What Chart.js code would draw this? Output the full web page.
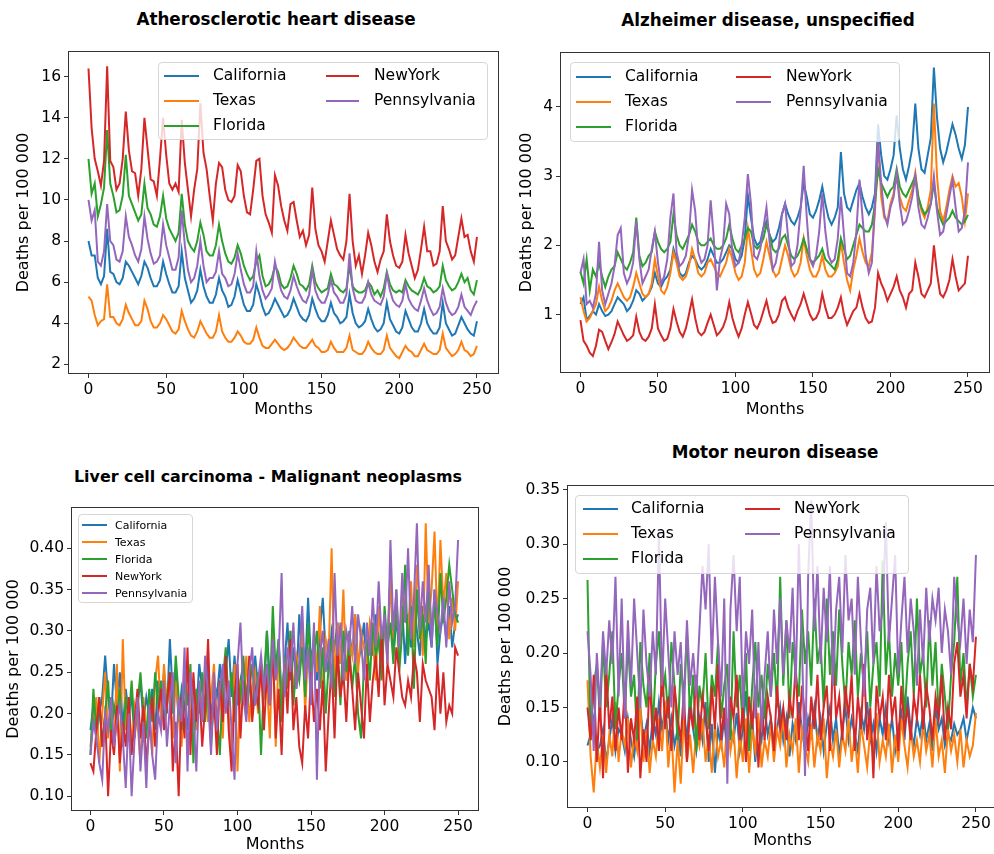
<!DOCTYPE html>
<html lang="en">
<head>
<meta charset="UTF-8">
<title>Deaths per 100 000 by state</title>
<script src="https://cdn.jsdelivr.net/npm/chart.js@4"></script>
<style>
  body { margin: 0; background: #fff; font-family: 'DejaVu Sans', sans-serif; }
  #page { position: relative; width: 994px; height: 854px; overflow: hidden; }
  canvas, .title, .legend { position: absolute; }
  .title { font-weight: bold; white-space: nowrap; transform: translate(-50%, -50%); color: #000; }
  .legend { background: rgba(255, 255, 255, 0.8); border: 1px solid #d6d6d6; border-radius: 4px; box-sizing: border-box; }
  .legend .h { position: absolute; height: 2px; }
  .legend .t { position: absolute; white-space: nowrap; transform: translateY(-50%); color: #000; line-height: 1; }
</style>
</head>
<body>
<div id="page"></div>
<script>
// months on the x axis, one value every 2 months
const months = [];
for (let m = 0; m <= 250; m += 2) months.push(m);

const states = ['California', 'Texas', 'Florida', 'NewYork', 'Pennsylvania'];
const colors = ['#1f77b4', '#ff7f0e', '#2ca02c', '#d62728', '#9467bd'];

// Atherosclerotic heart disease
const athCalifornia = [
  8.0, 7.3, 7.3, 6.2, 5.9, 6.3, 8.6, 6.5, 6.4, 6.0, 5.9, 6.2,
  7.0, 6.8, 6.5, 6.2, 5.9, 6.3, 7.0, 6.7, 6.2, 5.8, 5.8, 6.1,
  7.0, 6.4, 5.9, 5.5, 5.5, 5.8, 7.5, 6.2, 5.6, 5.0, 5.2, 5.6,
  6.6, 5.8, 5.3, 5.0, 5.0, 5.4, 6.2, 5.6, 5.3, 4.8, 4.9, 5.3,
  6.1, 5.5, 4.9, 4.6, 4.6, 4.9, 5.9, 5.4, 4.8, 4.4, 4.5, 4.8,
  5.2, 4.9, 4.6, 4.3, 4.4, 4.7, 5.2, 4.8, 4.4, 4.2, 4.1, 4.4,
  5.2, 4.7, 4.3, 4.1, 4.1, 4.4, 5.0, 4.5, 4.3, 4.0, 4.1, 4.3,
  5.4, 4.5, 4.0, 3.8, 3.9, 4.1, 4.7, 4.2, 3.8, 3.6, 3.7, 4.0,
  5.0, 4.2, 3.9, 3.6, 3.5, 3.8, 4.6, 4.2, 3.8, 3.6, 3.6, 4.0,
  4.7, 4.0, 3.7, 3.5, 3.5, 3.8, 5.0, 4.0, 3.7, 3.4, 3.5, 3.9,
  4.3, 4.0, 3.7, 3.5, 3.4, 4.1
];
const athTexas = [
  5.3, 5.1, 4.4, 3.9, 4.1, 4.2, 5.9, 4.3, 4.3, 4.0, 3.9, 4.2,
  4.9, 4.5, 4.2, 3.9, 3.9, 4.1, 5.1, 4.7, 4.1, 3.8, 3.8, 4.0,
  4.4, 4.2, 3.9, 3.6, 3.5, 3.7, 4.6, 4.1, 3.7, 3.4, 3.3, 3.6,
  4.1, 3.8, 3.5, 3.3, 3.3, 3.6, 4.4, 3.6, 3.3, 3.1, 3.1, 3.3,
  3.6, 3.4, 3.1, 3.0, 3.0, 3.2, 3.8, 3.3, 2.9, 2.8, 2.8, 3.0,
  3.2, 3.0, 2.8, 2.7, 2.8, 3.0, 3.3, 3.1, 2.9, 2.8, 2.8, 3.0,
  3.2, 2.9, 2.8, 2.6, 2.6, 2.7, 3.1, 2.8, 2.6, 2.6, 2.6, 2.8,
  3.4, 2.7, 2.6, 2.5, 2.5, 2.7, 3.1, 2.8, 2.6, 2.5, 2.5, 2.7,
  3.4, 2.8, 2.6, 2.4, 2.3, 2.6, 2.9, 2.7, 2.6, 2.4, 2.4, 2.7,
  3.0, 2.7, 2.6, 2.5, 2.5, 2.7, 3.5, 2.8, 2.6, 2.4, 2.5, 2.7,
  3.1, 2.7, 2.6, 2.4, 2.5, 2.9
];
const athFlorida = [
  12.0, 10.3, 10.8, 9.2, 9.8, 10.6, 13.4, 10.8, 10.2, 9.4, 9.5, 10.2,
  12.2, 10.2, 9.8, 9.4, 9.0, 9.3, 10.8, 9.6, 9.3, 8.8, 8.7, 9.2,
  10.2, 9.1, 8.6, 8.3, 8.0, 8.4, 10.3, 8.8, 8.0, 7.7, 7.5, 8.0,
  8.9, 8.3, 7.5, 7.3, 7.3, 7.8, 8.8, 8.0, 7.4, 7.0, 6.9, 7.2,
  7.8, 7.4, 6.8, 6.4, 6.1, 6.3, 7.0, 7.3, 6.3, 5.8, 5.9, 6.2,
  6.8, 6.5, 5.9, 5.7, 5.8, 6.2, 6.8, 6.4, 5.9, 5.8, 5.6, 5.9,
  6.8, 6.0, 5.7, 5.5, 5.6, 5.7, 6.4, 5.9, 5.8, 5.6, 5.5, 5.7,
  6.8, 5.8, 5.6, 5.5, 5.5, 5.6, 6.0, 5.8, 5.4, 5.6, 5.3, 5.7,
  6.5, 5.9, 5.6, 5.5, 5.6, 5.5, 6.1, 5.8, 5.6, 5.5, 5.4, 5.7,
  6.2, 5.8, 5.7, 5.5, 5.6, 5.8, 6.8, 6.1, 5.8, 5.6, 5.7, 6.0,
  6.4, 6.0, 6.2, 5.6, 5.4, 6.1
];
const athNewYork = [
  16.4, 13.5, 12.0, 11.4, 10.7, 11.9, 16.5, 11.9, 11.6, 10.5, 10.8, 12.0,
  14.3, 12.4, 11.4, 11.3, 10.2, 11.5, 14.0, 12.5, 11.0, 10.9, 10.2, 12.0,
  14.0, 12.2, 10.8, 10.5, 10.8, 10.4, 13.9, 11.8, 10.5, 9.2, 10.5, 11.5,
  14.7, 12.3, 11.5, 10.2, 9.0, 10.8, 11.8, 11.6, 10.5, 10.0, 9.9, 10.2,
  11.7, 11.4, 10.2, 9.4, 9.3, 10.5, 11.9, 12.0, 10.2, 9.3, 8.9, 8.4,
  11.2, 10.7, 9.7, 9.0, 8.5, 9.8, 9.9, 9.0, 8.2, 8.5, 7.8, 8.3,
  10.6, 8.6, 7.8, 7.5, 7.0, 8.0, 9.0, 8.3, 7.6, 7.3, 7.1, 8.0,
  10.3, 8.0, 6.8, 7.3, 6.4, 7.3, 8.4, 7.8, 7.0, 6.5, 7.1, 7.5,
  9.3, 8.0, 7.3, 6.8, 6.7, 7.0, 8.3, 7.4, 6.8, 6.2, 6.6, 7.6,
  8.7, 7.5, 7.5, 6.8, 6.9, 7.5, 9.7, 8.0, 7.6, 7.1, 7.3, 8.2,
  9.1, 8.2, 8.3, 7.5, 7.0, 8.2
];
const athPennsylvania = [
  10.0, 9.0, 9.5, 7.0, 6.8, 7.5, 9.8, 8.0, 7.8, 7.1, 7.0, 7.5,
  9.2, 8.2, 7.8, 7.3, 7.0, 7.6, 9.2, 8.1, 7.4, 6.9, 7.0, 7.3,
  8.8, 7.8, 7.2, 6.6, 6.6, 7.2, 9.5, 7.8, 6.6, 6.0, 6.2, 6.8,
  8.0, 6.8, 6.0, 6.2, 6.2, 6.5, 7.5, 6.4, 6.2, 5.8, 5.9, 6.4,
  7.4, 6.6, 5.9, 5.5, 5.5, 5.8, 7.5, 6.3, 5.6, 5.2, 5.4, 5.7,
  7.0, 6.2, 5.6, 5.3, 5.2, 5.6, 6.3, 5.8, 5.4, 5.1, 5.0, 5.4,
  6.6, 5.6, 5.2, 5.0, 5.0, 5.4, 6.1, 5.5, 5.3, 5.0, 5.0, 5.4,
  7.4, 5.7, 5.1, 5.0, 5.0, 5.3, 6.0, 5.4, 5.1, 5.0, 4.9, 5.3,
  6.4, 5.6, 5.1, 4.9, 4.8, 5.1, 5.9, 5.2, 4.9, 4.7, 4.6, 5.1,
  5.7, 5.1, 4.7, 4.4, 4.5, 4.8, 5.7, 5.0, 4.6, 4.4, 4.5, 4.8,
  5.4, 4.8, 4.6, 4.4, 4.8, 5.1
];

// Alzheimer disease, unspecified
const alzCalifornia = [
  1.15, 1.25, 0.92, 0.98, 1.05, 1.00, 1.15, 1.05, 0.98, 1.00, 1.05, 1.15,
  1.25, 1.20, 1.15, 1.05, 1.10, 1.20, 1.35, 1.30, 1.20, 1.25, 1.30, 1.40,
  1.60, 1.45, 1.40, 1.50, 1.55, 1.65, 1.95, 1.80, 1.60, 1.55, 1.60, 1.75,
  1.85, 1.80, 1.70, 1.65, 1.70, 1.80, 1.95, 1.85, 1.75, 1.75, 1.80, 1.90,
  2.00, 1.95, 1.80, 1.75, 1.85, 2.10, 2.72, 2.40, 2.10, 2.00, 2.05, 2.25,
  2.35, 2.15, 2.05, 2.10, 2.25, 2.45, 2.60, 2.45, 2.35, 2.30, 2.40, 2.55,
  2.90, 2.70, 2.45, 2.40, 2.50, 2.65, 2.85, 2.60, 2.40, 2.30, 2.40, 2.55,
  3.35, 2.75, 2.55, 2.50, 2.65, 2.80, 2.90, 2.70, 2.55, 2.45, 2.55, 2.75,
  3.75, 3.30, 3.00, 2.95, 3.10, 3.30, 3.88, 3.40, 3.10, 2.95, 3.15, 3.40,
  4.05, 3.40, 3.10, 3.05, 3.30, 3.55, 4.57, 3.85, 3.40, 3.20, 3.35, 3.55,
  3.75, 3.60, 3.40, 3.25, 3.45, 4.00
];
const alzTexas = [
  1.25, 1.05, 0.90, 0.95, 1.05, 1.15, 1.40, 1.20, 1.05, 1.10, 1.20, 1.35,
  1.45, 1.35, 1.25, 1.20, 1.25, 1.40, 1.60, 1.45, 1.30, 1.25, 1.30, 1.45,
  1.80, 1.55, 1.35, 1.30, 1.40, 1.60, 1.90, 1.75, 1.55, 1.50, 1.55, 1.70,
  1.95, 1.80, 1.60, 1.55, 1.60, 1.75, 1.80, 1.70, 1.60, 1.55, 1.65, 1.75,
  1.95, 1.80, 1.60, 1.50, 1.55, 1.75, 2.25, 1.95, 1.65, 1.55, 1.60, 1.80,
  2.05, 1.85, 1.65, 1.55, 1.60, 1.80, 2.00, 1.85, 1.65, 1.55, 1.60, 1.75,
  2.10, 1.85, 1.65, 1.55, 1.55, 1.65, 1.85, 1.65, 1.55, 1.55, 1.60, 1.70,
  2.05, 1.75, 1.50, 1.35, 1.65, 1.85, 2.10, 1.90, 1.75, 1.70, 1.90, 2.50,
  3.50, 2.70, 2.40, 2.35, 2.60, 2.75, 3.00, 2.70, 2.55, 2.50, 2.65, 2.80,
  3.05, 2.70, 2.50, 2.40, 2.55, 2.80, 4.05, 3.00, 2.50, 2.35, 2.55, 2.80,
  3.00, 2.85, 2.90, 2.70, 2.35, 2.75
];
const alzFlorida = [
  1.62, 1.45, 1.80, 1.35, 1.65, 1.55, 1.75, 1.55, 1.40, 1.55, 1.65, 1.70,
  1.90, 1.80, 1.70, 1.65, 1.75, 1.90, 2.40, 1.85, 1.70, 1.75, 1.85, 1.90,
  2.20, 2.05, 1.95, 1.90, 1.95, 2.05, 2.45, 2.15, 2.00, 1.95, 2.05, 2.15,
  2.30, 2.20, 2.05, 2.00, 2.00, 2.05, 2.10, 2.00, 1.95, 1.95, 2.00, 2.10,
  2.30, 2.10, 1.95, 1.90, 2.00, 2.10, 2.25, 2.20, 2.00, 1.95, 2.00, 2.10,
  2.30, 2.15, 1.95, 1.90, 1.95, 2.10, 2.15, 2.00, 1.85, 1.80, 1.85, 1.95,
  2.10, 1.95, 1.80, 1.75, 1.80, 1.85, 1.95, 1.80, 1.75, 1.70, 1.65, 1.80,
  2.10, 1.95, 1.80, 1.85, 2.00, 2.15, 2.30, 2.25, 2.20, 2.20, 2.30, 2.60,
  3.10, 2.90, 2.80, 2.70, 2.80, 2.85, 3.10, 2.85, 2.75, 2.70, 2.80, 2.90,
  3.00, 2.70, 2.55, 2.45, 2.50, 2.60, 2.90, 2.55, 2.40, 2.30, 2.35, 2.40,
  2.50, 2.40, 2.35, 2.30, 2.35, 2.44
];
const alzNewYork = [
  0.92, 0.62, 0.55, 0.45, 0.40, 0.55, 0.78, 0.75, 0.62, 0.50, 0.60, 0.72,
  0.90, 0.80, 0.70, 0.62, 0.65, 0.70, 0.97, 0.75, 0.65, 0.62, 0.68, 0.80,
  1.15, 0.80, 0.70, 0.62, 0.65, 0.80, 1.08, 0.90, 0.75, 0.68, 0.80, 1.00,
  1.22, 0.95, 0.75, 0.70, 0.75, 0.88, 1.00, 0.85, 0.70, 0.75, 0.82, 0.95,
  1.18, 0.95, 0.80, 0.68, 0.80, 1.00, 1.18, 1.02, 0.85, 0.80, 0.90, 1.05,
  1.20, 1.00, 0.88, 0.90, 1.00, 1.20, 1.25, 1.10, 1.00, 0.92, 1.05, 1.15,
  1.30, 1.15, 1.00, 0.92, 0.95, 1.05, 1.30, 1.10, 0.95, 0.95, 1.00, 1.10,
  1.25, 1.00, 0.85, 0.95, 1.05, 1.10, 1.30, 1.10, 0.95, 0.88, 0.90, 1.10,
  1.60, 1.45, 1.35, 1.20, 1.30, 1.40, 1.55, 1.35, 1.25, 1.10, 1.30, 1.35,
  1.75, 1.55, 1.30, 1.25, 1.35, 1.45, 2.00, 1.60, 1.30, 1.25, 1.35, 1.50,
  1.80, 1.55, 1.35, 1.40, 1.45, 1.85
];
const alzPennsylvania = [
  1.60, 1.80, 1.15, 1.20, 1.10, 1.30, 2.05, 1.35, 1.15, 1.30, 1.45, 1.70,
  2.15, 2.25, 1.60, 1.45, 1.55, 1.75, 2.35, 1.80, 1.45, 1.55, 1.65, 1.95,
  2.20, 1.75, 1.45, 1.55, 1.80, 2.40, 2.75, 1.90, 1.70, 1.75, 1.85, 2.15,
  2.80, 2.50, 1.90, 1.75, 1.80, 2.00, 2.65, 2.10, 1.35, 1.80, 2.00, 2.60,
  2.45, 1.90, 1.70, 1.75, 2.00, 2.40, 3.03, 2.60, 1.85, 1.80, 1.95, 2.25,
  2.55, 2.05, 1.65, 1.75, 2.00, 2.45, 2.60, 2.10, 1.70, 1.75, 2.00, 2.50,
  3.15, 2.40, 1.80, 1.70, 1.85, 2.20, 2.75, 2.20, 1.85, 1.75, 1.80, 2.10,
  2.70, 2.15, 1.60, 1.55, 1.75, 2.20, 2.95, 2.40, 1.85, 1.60, 1.75, 2.60,
  3.50, 2.90, 2.45, 2.30, 2.55, 2.70, 3.05, 2.60, 2.30, 2.35, 2.50, 2.70,
  3.00, 2.55, 2.30, 2.25, 2.40, 2.60, 3.00, 2.50, 2.15, 2.20, 2.45, 2.70,
  2.95, 2.55, 2.20, 2.25, 2.50, 3.20
];

// Liver cell carcinoma - Malignant neoplasms
const livCalifornia = [
  0.18, 0.21, 0.17, 0.20, 0.22, 0.27, 0.22, 0.19, 0.26, 0.21, 0.25, 0.18,
  0.23, 0.20, 0.22, 0.17, 0.21, 0.24, 0.19, 0.22, 0.20, 0.23, 0.18, 0.24,
  0.21, 0.25, 0.20, 0.29, 0.22, 0.25, 0.19, 0.23, 0.21, 0.18, 0.24, 0.22,
  0.20, 0.26, 0.23, 0.21, 0.26, 0.19, 0.24, 0.22, 0.26, 0.20, 0.25, 0.29,
  0.22, 0.27, 0.21, 0.24, 0.26, 0.22, 0.25, 0.20, 0.27, 0.23, 0.26, 0.22,
  0.30, 0.24, 0.27, 0.25, 0.29, 0.22, 0.26, 0.31, 0.24, 0.28, 0.23, 0.32,
  0.27, 0.25, 0.34, 0.26, 0.29, 0.24, 0.30, 0.34, 0.27, 0.25, 0.30, 0.28,
  0.31, 0.26, 0.29, 0.24, 0.30, 0.27, 0.32, 0.26, 0.28, 0.31, 0.25, 0.30,
  0.27, 0.32, 0.29, 0.25, 0.31, 0.28, 0.37, 0.27, 0.31, 0.29, 0.33, 0.26,
  0.32, 0.28, 0.34, 0.30, 0.27, 0.33, 0.29, 0.31, 0.28, 0.35, 0.26, 0.30,
  0.32, 0.29, 0.33, 0.28, 0.31, 0.32
];
const livTexas = [
  0.16, 0.19, 0.22, 0.14, 0.20, 0.25, 0.17, 0.21, 0.15, 0.26, 0.13, 0.29,
  0.18, 0.22, 0.16, 0.21, 0.19, 0.14, 0.22, 0.18, 0.20, 0.15, 0.24, 0.27,
  0.19, 0.26, 0.21, 0.23, 0.17, 0.24, 0.20, 0.16, 0.25, 0.22, 0.19, 0.24,
  0.18, 0.23, 0.21, 0.25, 0.19, 0.22, 0.26, 0.18, 0.24, 0.17, 0.27, 0.20,
  0.14, 0.26, 0.13, 0.24, 0.21, 0.27, 0.19, 0.23, 0.25, 0.20, 0.26, 0.22,
  0.24, 0.17, 0.30, 0.16, 0.28, 0.21, 0.26, 0.24, 0.30, 0.22, 0.27, 0.25,
  0.31, 0.20, 0.28, 0.23, 0.30, 0.25, 0.33, 0.21, 0.29, 0.27, 0.40, 0.23,
  0.31, 0.26, 0.35, 0.24, 0.29, 0.27, 0.32, 0.25, 0.30, 0.28, 0.26, 0.31,
  0.29, 0.24, 0.33, 0.28, 0.31, 0.26, 0.37, 0.29, 0.34, 0.27, 0.35, 0.32,
  0.30, 0.36, 0.28, 0.38, 0.33, 0.27, 0.43, 0.31, 0.35, 0.42, 0.30, 0.41,
  0.33, 0.37, 0.29, 0.34, 0.30, 0.36
];
const livFlorida = [
  0.15, 0.23, 0.18, 0.22, 0.16, 0.20, 0.24, 0.17, 0.21, 0.19, 0.23, 0.16,
  0.22, 0.19, 0.24, 0.18, 0.21, 0.25, 0.20, 0.17, 0.23, 0.19, 0.25, 0.21,
  0.24, 0.19, 0.22, 0.25, 0.20, 0.27, 0.22, 0.18, 0.24, 0.21, 0.26, 0.14,
  0.23, 0.20, 0.25, 0.19, 0.24, 0.16, 0.22, 0.20, 0.15, 0.24, 0.28, 0.21,
  0.25, 0.19, 0.24, 0.22, 0.27, 0.20, 0.23, 0.26, 0.21, 0.25, 0.15, 0.24,
  0.30, 0.22, 0.33, 0.25, 0.29, 0.19, 0.27, 0.23, 0.30, 0.21, 0.26, 0.24,
  0.28, 0.22, 0.31, 0.25, 0.27, 0.30, 0.23, 0.28, 0.20, 0.26, 0.29, 0.22,
  0.27, 0.21, 0.30, 0.25, 0.28, 0.23, 0.27, 0.20, 0.17, 0.26, 0.29, 0.24,
  0.31, 0.27, 0.29, 0.24, 0.33, 0.28, 0.31, 0.26, 0.35, 0.25, 0.30, 0.38,
  0.27, 0.33, 0.23, 0.35, 0.29, 0.32, 0.26, 0.36, 0.30, 0.33, 0.28, 0.37,
  0.31, 0.34, 0.38, 0.35, 0.32, 0.31
];
const livNewYork = [
  0.14, 0.13, 0.18, 0.22, 0.16, 0.20, 0.10, 0.18, 0.15, 0.21, 0.14, 0.19,
  0.16, 0.22, 0.15, 0.19, 0.23, 0.17, 0.21, 0.14, 0.18, 0.22, 0.16, 0.20,
  0.23, 0.18, 0.21, 0.25, 0.13, 0.19, 0.10, 0.22, 0.17, 0.28, 0.15, 0.25,
  0.19, 0.23, 0.16, 0.21, 0.29, 0.17, 0.22, 0.15, 0.24, 0.19, 0.27, 0.18,
  0.13, 0.22, 0.26, 0.17, 0.24, 0.20, 0.27, 0.19, 0.23, 0.21, 0.26, 0.18,
  0.25, 0.21, 0.28, 0.17, 0.23, 0.15, 0.26, 0.20, 0.29, 0.18, 0.22, 0.16,
  0.14, 0.21, 0.17, 0.25, 0.19, 0.23, 0.18, 0.24, 0.13, 0.20, 0.26, 0.17,
  0.28, 0.22, 0.25, 0.19, 0.27, 0.23, 0.18, 0.25, 0.21, 0.17, 0.26, 0.19,
  0.24, 0.27, 0.22, 0.30, 0.21, 0.26, 0.24, 0.22, 0.28, 0.25, 0.22, 0.21,
  0.24, 0.22, 0.27, 0.25, 0.19, 0.26, 0.24, 0.23, 0.22, 0.18, 0.26, 0.20,
  0.25, 0.19, 0.21, 0.20, 0.28, 0.27
];
const livPennsylvania = [
  0.15, 0.19, 0.17, 0.14, 0.12, 0.20, 0.18, 0.22, 0.16, 0.19, 0.21, 0.17,
  0.11, 0.20, 0.10, 0.17, 0.22, 0.13, 0.19, 0.11, 0.21, 0.15, 0.12, 0.20,
  0.18, 0.24, 0.16, 0.21, 0.25, 0.14, 0.22, 0.19, 0.28, 0.13, 0.25, 0.20,
  0.13, 0.24, 0.19, 0.27, 0.22, 0.15, 0.25, 0.18, 0.23, 0.26, 0.20, 0.24,
  0.18, 0.12, 0.26, 0.31, 0.22, 0.19, 0.25, 0.28, 0.21, 0.24, 0.27, 0.23,
  0.26, 0.21, 0.29, 0.24, 0.27, 0.37, 0.22, 0.28, 0.25, 0.31, 0.23, 0.26,
  0.33, 0.24, 0.28, 0.21, 0.31, 0.12, 0.27, 0.30, 0.25, 0.29, 0.23, 0.37,
  0.27, 0.31, 0.24, 0.30, 0.28, 0.33, 0.26, 0.32, 0.29, 0.24, 0.31, 0.27,
  0.34, 0.28, 0.36, 0.29, 0.32, 0.26, 0.41, 0.30, 0.35, 0.28, 0.37, 0.31,
  0.40, 0.29, 0.34, 0.43, 0.30, 0.36, 0.31, 0.38, 0.28, 0.35, 0.32, 0.30,
  0.34, 0.28, 0.36, 0.31, 0.33, 0.41
];

// Motor neuron disease
const mndCalifornia = [
  0.115, 0.125, 0.14, 0.11, 0.115, 0.13, 0.10, 0.12, 0.14, 0.11, 0.13, 0.125,
  0.11, 0.14, 0.12, 0.105, 0.13, 0.15, 0.12, 0.135, 0.11, 0.14, 0.125, 0.155,
  0.13, 0.15, 0.12, 0.14, 0.115, 0.13, 0.105, 0.145, 0.12, 0.16, 0.13, 0.11,
  0.14, 0.12, 0.155, 0.10, 0.135, 0.09, 0.13, 0.115, 0.14, 0.105, 0.13, 0.12,
  0.145, 0.11, 0.13, 0.165, 0.12, 0.14, 0.10, 0.135, 0.12, 0.15, 0.125, 0.14,
  0.115, 0.13, 0.15, 0.12, 0.14, 0.105, 0.135, 0.12, 0.155, 0.13, 0.11, 0.14,
  0.125, 0.15, 0.12, 0.14, 0.11, 0.135, 0.15, 0.12, 0.14, 0.105, 0.13, 0.15,
  0.12, 0.14, 0.125, 0.11, 0.145, 0.13, 0.155, 0.12, 0.135, 0.11, 0.14, 0.125,
  0.15, 0.12, 0.14, 0.11, 0.13, 0.145, 0.12, 0.16, 0.13, 0.115, 0.14, 0.125,
  0.145, 0.12, 0.135, 0.11, 0.15, 0.13, 0.14, 0.115, 0.125, 0.12, 0.135, 0.125,
  0.13, 0.14, 0.12, 0.135, 0.15, 0.14
];
const mndTexas = [
  0.175, 0.105, 0.072, 0.12, 0.095, 0.125, 0.09, 0.125, 0.105, 0.155, 0.10, 0.13,
  0.115, 0.14, 0.095, 0.125, 0.11, 0.15, 0.10, 0.13, 0.09, 0.12, 0.105, 0.14,
  0.11, 0.155, 0.095, 0.13, 0.072, 0.12, 0.08, 0.14, 0.10, 0.125, 0.09, 0.13,
  0.115, 0.14, 0.10, 0.125, 0.09, 0.135, 0.105, 0.12, 0.095, 0.14, 0.11, 0.13,
  0.085, 0.125, 0.10, 0.14, 0.09, 0.13, 0.11, 0.145, 0.095, 0.12, 0.105, 0.135,
  0.10, 0.13, 0.115, 0.145, 0.095, 0.125, 0.11, 0.14, 0.09, 0.13, 0.115, 0.10,
  0.135, 0.095, 0.125, 0.11, 0.14, 0.085, 0.12, 0.105, 0.13, 0.095, 0.125, 0.11,
  0.14, 0.10, 0.125, 0.09, 0.135, 0.115, 0.095, 0.13, 0.11, 0.145, 0.10, 0.12,
  0.105, 0.135, 0.09, 0.125, 0.10, 0.14, 0.115, 0.095, 0.13, 0.105, 0.12, 0.10,
  0.135, 0.11, 0.125, 0.095, 0.14, 0.105, 0.12, 0.09, 0.13, 0.11, 0.125, 0.10,
  0.13, 0.095, 0.12, 0.105, 0.115, 0.145
];
const mndFlorida = [
  0.267, 0.12, 0.17, 0.19, 0.14, 0.21, 0.15, 0.18, 0.22, 0.13, 0.17, 0.20,
  0.14, 0.21, 0.16, 0.18, 0.12, 0.21, 0.17, 0.15, 0.20, 0.13, 0.19, 0.22,
  0.16, 0.18, 0.14, 0.21, 0.17, 0.12, 0.19, 0.16, 0.22, 0.14, 0.18, 0.11,
  0.17, 0.15, 0.20, 0.13, 0.18, 0.16, 0.21, 0.14, 0.17, 0.19, 0.12, 0.22,
  0.15, 0.18, 0.13, 0.20, 0.11, 0.17, 0.21, 0.15, 0.18, 0.14, 0.19, 0.16,
  0.20, 0.15, 0.27, 0.17, 0.23, 0.14, 0.21, 0.18, 0.16, 0.24, 0.19, 0.22,
  0.17, 0.25, 0.19, 0.21, 0.15, 0.25, 0.18, 0.22, 0.17, 0.24, 0.19, 0.15,
  0.21, 0.18, 0.23, 0.16, 0.20, 0.17, 0.22, 0.15, 0.19, 0.21, 0.16, 0.285,
  0.18, 0.22, 0.16, 0.20, 0.17, 0.21, 0.14, 0.19, 0.22, 0.16, 0.25, 0.18,
  0.20, 0.15, 0.23, 0.17, 0.21, 0.14, 0.19, 0.16, 0.13, 0.18, 0.21, 0.27,
  0.17, 0.20, 0.15, 0.19, 0.16, 0.18
];
const mndNewYork = [
  0.15, 0.12, 0.18, 0.10, 0.16, 0.085, 0.19, 0.13, 0.16, 0.11, 0.15, 0.12,
  0.17, 0.09, 0.14, 0.12, 0.16, 0.085, 0.13, 0.10, 0.18, 0.12, 0.15, 0.11,
  0.19, 0.13, 0.16, 0.11, 0.17, 0.14, 0.12, 0.165, 0.10, 0.15, 0.13, 0.18,
  0.12, 0.16, 0.14, 0.11, 0.17, 0.13, 0.19, 0.12, 0.15, 0.11, 0.16, 0.14,
  0.18, 0.12, 0.15, 0.10, 0.16, 0.13, 0.17, 0.095, 0.15, 0.12, 0.16, 0.14,
  0.11, 0.17, 0.13, 0.15, 0.12, 0.16, 0.14, 0.19, 0.12, 0.17, 0.14, 0.11,
  0.16, 0.13, 0.18, 0.12, 0.15, 0.17, 0.11, 0.20, 0.14, 0.16, 0.12, 0.17,
  0.14, 0.18, 0.11, 0.16, 0.13, 0.19, 0.12, 0.15, 0.085, 0.17, 0.14, 0.16,
  0.12, 0.18, 0.14, 0.16, 0.11, 0.17, 0.13, 0.15, 0.12, 0.16, 0.14, 0.18,
  0.13, 0.17, 0.15, 0.12, 0.16, 0.14, 0.18, 0.12, 0.15, 0.13, 0.19, 0.21,
  0.16, 0.18, 0.14, 0.19, 0.17, 0.215
];
const mndPennsylvania = [
  0.22, 0.18, 0.11, 0.20, 0.15, 0.22, 0.18, 0.23, 0.19, 0.27, 0.16, 0.25,
  0.14, 0.23, 0.17, 0.25, 0.20, 0.15, 0.24, 0.19, 0.16, 0.22, 0.18, 0.31,
  0.17, 0.25, 0.20, 0.15, 0.22, 0.18, 0.21, 0.14, 0.23, 0.17, 0.20, 0.16,
  0.22, 0.28, 0.24, 0.30, 0.19, 0.27, 0.21, 0.16, 0.25, 0.08, 0.24, 0.29,
  0.22, 0.27, 0.15, 0.22, 0.19, 0.24, 0.14, 0.21, 0.13, 0.18, 0.22, 0.16,
  0.24, 0.19, 0.25, 0.18, 0.23, 0.20, 0.26, 0.17, 0.30, 0.21, 0.087, 0.27,
  0.34, 0.22, 0.28, 0.19, 0.26, 0.21, 0.28, 0.17, 0.24, 0.27, 0.20, 0.29,
  0.23, 0.25, 0.18, 0.27, 0.21, 0.16, 0.24, 0.26, 0.19, 0.28, 0.22, 0.24,
  0.32, 0.21, 0.25, 0.29, 0.18, 0.23, 0.27, 0.20, 0.25, 0.22, 0.17, 0.24,
  0.19, 0.26, 0.21, 0.25, 0.23, 0.26, 0.20, 0.24, 0.22, 0.18, 0.27, 0.23,
  0.21, 0.25, 0.19, 0.24, 0.21, 0.29
];

Chart.defaults.font.family = "'DejaVu Sans', sans-serif";
Chart.defaults.color = '#000';

// axes box drawn over the lines, like matplotlib spines
const frame = {
  id: 'frame',
  afterDatasetsDraw(chart) {
    const a = chart.chartArea, ctx = chart.ctx;
    ctx.save();
    ctx.strokeStyle = '#333';
    ctx.lineWidth = 1;
    ctx.strokeRect(Math.round(a.left) - 0.5, Math.round(a.top) - 0.5,
      Math.round(a.right - a.left) + 1, Math.round(a.bottom - a.top) + 1);
    ctx.restore();
  }
};

const panels = [
  {
    title: 'Atherosclerotic heart disease', tx: 276, ty: 19, tsize: 16.8,
    box: [0, 0, 500, 425], pad: { left: 0, right: 2, top: 52, bottom: 0 },
    yw: 69, xh: 52, ymin: 1.58, ymax: 17.2, ystep: 2, ydec: 0, ylabPad: 14, xlabPad: 6,
    series: [athCalifornia, athTexas, athFlorida, athNewYork, athPennsylvania],
    legend: { x: 158, y: 62, w: 330, h: 78, font: 15.5, rows: [13, 38, 63], cols: [[5, 40, 54], [167, 200, 215]] }
  },
  {
    title: 'Alzheimer disease, unspecified', tx: 768, ty: 20, tsize: 16.8,
    box: [494, 0, 500, 425], pad: { left: 0, right: 5, top: 53, bottom: 0 },
    yw: 67, xh: 53, ymin: 0.17, ymax: 4.78, ystep: 1, ydec: 0, ylabPad: 23, xlabPad: 6,
    series: [alzCalifornia, alzTexas, alzFlorida, alzNewYork, alzPennsylvania],
    legend: { x: 570, y: 62, w: 330, h: 80, font: 15.5, rows: [14, 39, 64], cols: [[5, 40, 54], [165, 200, 215]] }
  },
  {
    title: 'Liver cell carcinoma - Malignant neoplasms', tx: 268, ty: 476, tsize: 15.9,
    box: [0, 430, 500, 424], pad: { left: 0, right: 22, top: 78, bottom: 0 },
    yw: 72, xh: 44, ymin: 0.0834, ymax: 0.4486, ystep: 0.05, ydec: 2, ylabPad: 4, xlabPad: 0,
    series: [livCalifornia, livTexas, livFlorida, livNewYork, livPennsylvania],
    legend: { x: 78, y: 514, w: 115, h: 89, font: 11, rows: [10, 27, 44, 61, 78], cols: [[3, 28, 36]] }
  },
  {
    title: 'Motor neuron disease', tx: 775, ty: 452, tsize: 16.8,
    box: [494, 430, 504, 424], pad: { left: 0, right: 1, top: 56, bottom: 0 },
    yw: 74, xh: 47, ymin: 0.0586, ymax: 0.3534, ystep: 0.05, ydec: 2, ylabPad: 2, xlabPad: 4,
    series: [mndCalifornia, mndTexas, mndFlorida, mndNewYork, mndPennsylvania],
    legend: { x: 575, y: 495, w: 334, h: 79, font: 15.5, rows: [13, 38, 63], cols: [[7, 42, 55], [169, 204, 218]] }
  }
];

const page = document.getElementById('page');

function drawPanel(p) {
  const t = document.createElement('div');
  t.className = 'title';
  t.textContent = p.title;
  t.style.left = p.tx + 'px';
  t.style.top = p.ty + 'px';
  t.style.fontSize = p.tsize + 'px';
  page.appendChild(t);

  const cv = document.createElement('canvas');
  cv.width = p.box[2];
  cv.height = p.box[3];
  cv.style.left = p.box[0] + 'px';
  cv.style.top = p.box[1] + 'px';
  page.appendChild(cv);

  new Chart(cv, {
    type: 'line',
    data: {
      datasets: p.series.map((s, i) => ({
        label: states[i],
        data: s.map((v, j) => ({ x: months[j], y: v })),
        borderColor: colors[i],
        borderWidth: 2,
        pointRadius: 0,
        tension: 0,
        fill: false,
        order: states.length - 1 - i  // later series on top, as in matplotlib
      }))
    },
    options: {
      responsive: false,
      animation: false,
      devicePixelRatio: 1,
      layout: { padding: p.pad },
      plugins: { legend: { display: false }, tooltip: { enabled: false } },
      scales: {
        x: {
          type: 'linear', min: -12.55, max: 263.55,
          afterFit: s => { s.height = p.xh; },
          grid: { drawOnChartArea: false, tickLength: 5, color: '#333' },
          border: { display: false },
          ticks: { stepSize: 50, includeBounds: false, autoSkip: false, maxRotation: 0, padding: 3, font: { size: 15.5 } },
          title: { display: true, text: 'Months', font: { size: 16 }, padding: { top: 0, bottom: p.xlabPad } }
        },
        y: {
          type: 'linear', min: p.ymin, max: p.ymax,
          afterFit: s => { s.width = p.yw; },
          grid: { drawOnChartArea: false, tickLength: 5, color: '#333' },
          border: { display: false },
          ticks: { stepSize: p.ystep, includeBounds: false, autoSkip: false, padding: 3, font: { size: 15.5 },
                   callback: v => v.toFixed(p.ydec) },
          title: { display: true, text: 'Deaths per 100 000', font: { size: 16 }, padding: { top: p.ylabPad, bottom: 0 } }
        }
      }
    },
    plugins: [frame]
  });

  // legend box inside the axes
  const L = p.legend;
  const lg = document.createElement('div');
  lg.className = 'legend';
  Object.assign(lg.style, { left: L.x + 'px', top: L.y + 'px', width: L.w + 'px', height: L.h + 'px', fontSize: L.font + 'px' });
  states.forEach((name, i) => {
    const col = Math.floor(i / L.rows.length), row = i % L.rows.length;
    const c = L.cols[col];
    const h = document.createElement('div');
    h.className = 'h';
    Object.assign(h.style, { left: c[0] + 'px', width: (c[1] - c[0]) + 'px', top: (L.rows[row] - 1) + 'px', background: colors[i] });
    const tx = document.createElement('div');
    tx.className = 't';
    tx.textContent = name;
    Object.assign(tx.style, { left: c[2] + 'px', top: L.rows[row] + 'px' });
    lg.appendChild(h);
    lg.appendChild(tx);
  });
  page.appendChild(lg);
}

panels.forEach(drawPanel);
</script>
</body>
</html>
